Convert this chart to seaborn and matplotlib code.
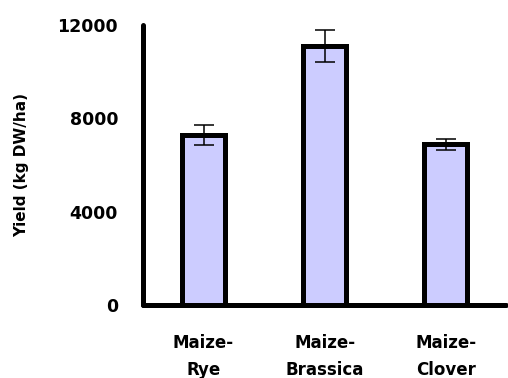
import matplotlib
matplotlib.use("Agg")
import matplotlib.pyplot as plt
import seaborn as sns
import pandas as pd

# data
systems = ["Maize-\nRye", "Maize-\nBrassica", "Maize-\nClover"]
yield_mean = [7300, 11100, 6880]
yield_err = [430, 680, 220]
yticks = [0, 4000, 8000, 12000]

df = pd.DataFrame({"system": systems, "yield": yield_mean})

sns.set_style("white")
plt.rcParams["font.family"] = ["DejaVu Sans"]
plt.rcParams["text.color"] = "black"
plt.rcParams["xtick.color"] = "black"
plt.rcParams["ytick.color"] = "black"
plt.rcParams["axes.labelcolor"] = "black"

fig = plt.figure(figsize=(5.08, 3.78), dpi=100)
ax = fig.add_axes([0.2815, 0.193, 0.715, 0.741])

sns.barplot(data=df, x="system", y="yield", color="#CCCCFF", saturation=1,
            width=0.36, edgecolor="black", linewidth=3.6, errorbar=None, ax=ax)
ax.errorbar(range(len(systems)), yield_mean, yerr=yield_err, fmt="none",
            ecolor="black", elinewidth=1.1, capsize=7, capthick=1.1, zorder=5)

ax.set_xlim(-0.5, 2.5)
ax.set_ylim(0, 12000)
ax.set_yticks(yticks)
ax.set_yticklabels([str(t) for t in yticks], fontsize=12.5, fontweight="bold")
ax.set_xticks(range(len(systems)))
ax.set_xticklabels(systems, fontsize=12, fontweight="bold", linespacing=1.6)
ax.tick_params(axis="both", length=0)
ax.tick_params(axis="y", pad=18)
ax.tick_params(axis="x", pad=21)

ax.set_xlabel("")
ax.set_ylabel("Yield (kg DW/ha)", fontsize=11, fontweight="bold", labelpad=20)

sns.despine(ax=ax)
for side in ["left", "bottom"]:
    ax.spines[side].set_linewidth(3.6)
    ax.spines[side].set_color("black")
    ax.spines[side].set_capstyle("round")

fig.savefig("out.png", dpi=100)
